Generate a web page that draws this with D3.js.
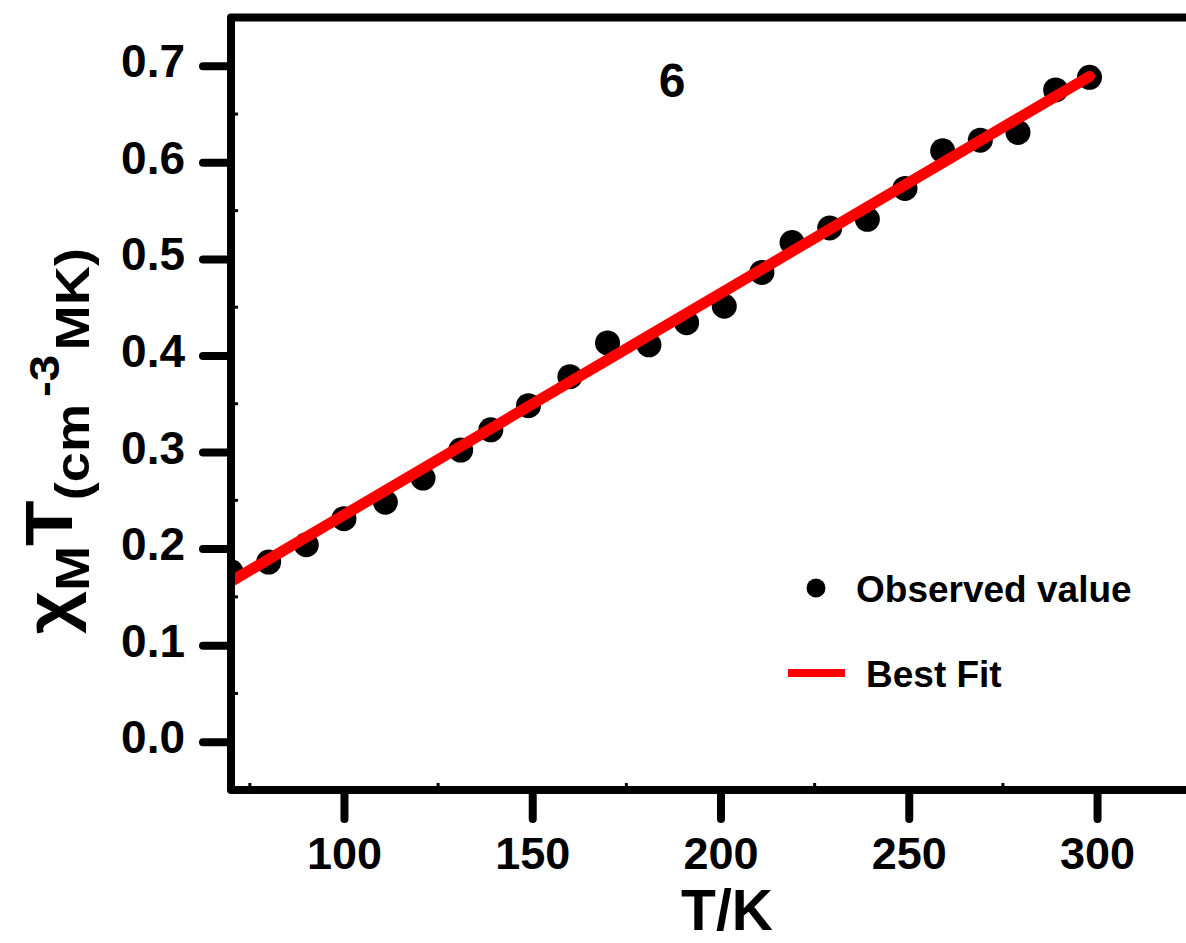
<!DOCTYPE html>
<html>
<head>
<meta charset="utf-8">
<script src="https://cdn.jsdelivr.net/npm/d3@7"></script>
<style>
html,body{margin:0;padding:0;background:#fff;overflow:hidden;}
svg{display:block;}
text{font-family:Arial,"Liberation Sans",sans-serif;font-weight:bold;fill:#000;}
</style>
</head>
<body>
<script>
const temperatures = [70, 80, 90, 100, 111, 121, 131, 139, 149, 160, 170, 181, 191, 201, 211, 219, 229, 239, 249, 259, 269, 279, 289, 298];
const observed = [0.176, 0.186, 0.204, 0.231, 0.248, 0.273, 0.302, 0.323, 0.348, 0.378, 0.413, 0.411, 0.434, 0.451, 0.486, 0.517, 0.532, 0.541, 0.573, 0.612, 0.623, 0.631, 0.675, 0.688];
const fitT = [70, 298];
const fitValues = [0.166, 0.689];
const xTicks = [100, 150, 200, 250, 300];
const yTicks = [0.0, 0.1, 0.2, 0.3, 0.4, 0.5, 0.6, 0.7];
const xMinor = [75, 125, 175, 225, 275, 325];
const yMinor = [-0.05, 0.05, 0.15, 0.25, 0.35, 0.45, 0.55, 0.65];
const legendLabels = ["Observed value", "Best Fit"];
const panelLabel = "6";

(function () {
const W = 1186, H = 943;
const svg = d3.select("body").append("svg").attr("width", W).attr("height", H);

const pL = 231, pR = 1210, pT = 17.5, pB = 790;
const x = d3.scaleLinear().domain([70, 330]).range([pL, pR]);
const y = d3.scaleLinear().domain([-0.05, 0.75]).range([pB, pT]);

svg.append("defs").append("clipPath").attr("id", "clip")
  .append("rect").attr("x", pL).attr("y", pT).attr("width", pR - pL).attr("height", pB - pT);

const plot = svg.append("g").attr("clip-path", "url(#clip)");

plot.selectAll("circle.pt").data(temperatures).enter().append("circle")
  .attr("class", "pt")
  .attr("cx", d => x(d))
  .attr("cy", (d, i) => y(observed[i]))
  .attr("r", 12.5)
  .attr("fill", "#000");

const line = d3.line().x(d => x(d[0])).y(d => y(d[1]));
plot.append("path")
  .datum(fitT.map((t, i) => [t, fitValues[i]]))
  .attr("d", line)
  .attr("fill", "none")
  .attr("stroke", "#ff0000")
  .attr("stroke-width", 11)
  .attr("stroke-linecap", "round");

svg.append("path")
  .attr("d", `M${pR},${pT}H${pL}V${pB}H${pR}`)
  .attr("fill", "none").attr("stroke", "#000").attr("stroke-width", 8)
  .attr("stroke-linejoin", "round");

const xAxis = d3.axisBottom(x).tickValues(xTicks).tickSize(29).tickPadding(0).tickFormat(d3.format("d"));
const gx = svg.append("g").attr("transform", `translate(0,${pB})`).call(xAxis);
gx.select(".domain").remove();
gx.selectAll(".tick line").attr("stroke", "#000").attr("stroke-width", 8).attr("stroke-linecap", "round");
gx.selectAll(".tick text").attr("font-size", 45).attr("y", 79).attr("dy", null)
  .attr("font-family", 'Arial,"Liberation Sans",sans-serif').attr("font-weight", "bold");

svg.append("g").selectAll("line").data(xMinor.filter(d => x(d) < W)).enter().append("line")
  .attr("x1", d => x(d)).attr("x2", d => x(d))
  .attr("y1", pB).attr("y2", pB - 7)
  .attr("stroke", "#000").attr("stroke-width", 3);

const yAxis = d3.axisLeft(y).tickValues(yTicks).tickSize(28).tickPadding(0).tickFormat(d3.format(".1f"));
const gy = svg.append("g").attr("transform", `translate(${pL},0)`).call(yAxis);
gy.select(".domain").remove();
gy.selectAll(".tick line").attr("stroke", "#000").attr("stroke-width", 8).attr("stroke-linecap", "round");
gy.selectAll(".tick text").attr("font-size", 46).attr("x", -46).attr("dy", 11)
  .attr("font-family", 'Arial,"Liberation Sans",sans-serif').attr("font-weight", "bold");

svg.append("g").selectAll("line").data(yMinor).enter().append("line")
  .attr("x1", pL).attr("x2", pL + 7)
  .attr("y1", d => y(d)).attr("y2", d => y(d))
  .attr("stroke", "#000").attr("stroke-width", 3);

svg.append("text").attr("x", 727).attr("y", 930).attr("text-anchor", "middle")
  .attr("font-size", 57).text("T/K");

const yt = svg.append("text").attr("transform", "translate(72,441) rotate(-90) scale(1.13,1)")
  .attr("text-anchor", "middle");
yt.append("tspan").attr("font-size", 66).text("χ");
yt.append("tspan").attr("font-size", 48).attr("dy", 17).text("M");
yt.append("tspan").attr("font-size", 66).attr("dy", -17).text("T");
yt.append("tspan").attr("font-size", 48).attr("dy", 17).text("(cm");
yt.append("tspan").attr("font-size", 42).attr("dy", -30).attr("dx", 6).text("-3");
yt.append("tspan").attr("font-size", 48).attr("dy", 30).attr("dx", 4).text("MK)");

svg.append("text").attr("x", 672).attr("y", 97).attr("text-anchor", "middle")
  .attr("font-size", 48).text(panelLabel);

svg.append("circle").attr("cx", 816).attr("cy", 588).attr("r", 9.5).attr("fill", "#000");
svg.append("text").attr("x", 856).attr("y", 602).attr("font-size", 37).text(legendLabels[0]);
svg.append("line").attr("x1", 788).attr("x2", 845).attr("y1", 673).attr("y2", 673)
  .attr("stroke", "#ff0000").attr("stroke-width", 8);
svg.append("text").attr("x", 866).attr("y", 687).attr("font-size", 37).text(legendLabels[1]);
})();
</script>
</body>
</html>
